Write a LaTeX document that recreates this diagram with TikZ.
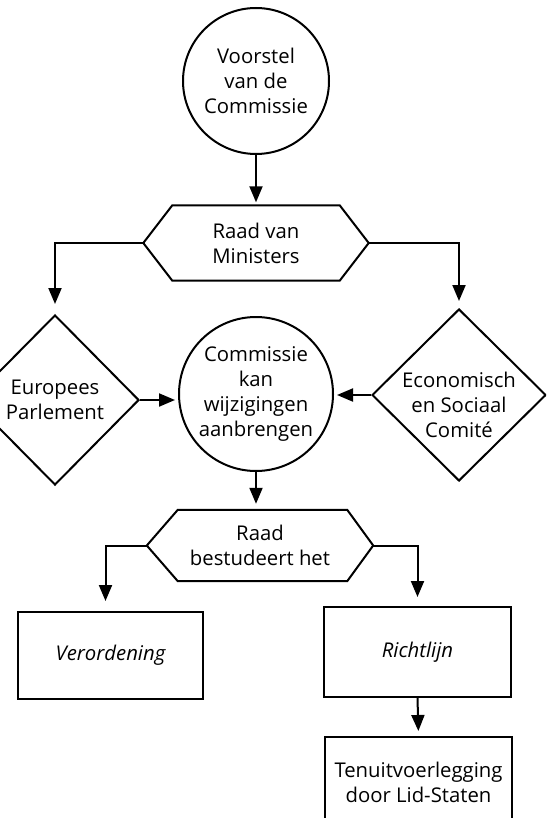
\documentclass[tikz,border=0pt]{standalone}
\usepackage{fontspec}
\setmainfont{Open Sans}
\usetikzlibrary{shapes.geometric,arrows.meta}
\begin{document}
\begin{tikzpicture}[x=1pt,y=-1pt,
  every node/.style={font=\fontsize{20.3}{25}\selectfont, align=center},
  ln/.style={draw, line width=2pt},
  circ/.style={ln, circle, inner sep=0pt},
  dia/.style={ln, diamond, inner sep=0pt},
  boxn/.style={ln, rectangle, inner sep=0pt},
  hexn/.style={rectangle, inner sep=0pt},
  hexline/.style={line width=2pt, line join=miter},
  conn/.style={line width=2pt, -{Triangle[width=13pt,length=16pt]}}
]
\useasboundingbox (0,0) rectangle (546,818);
\clip (0,0) rectangle (546,818);

% nodes
\node[circ, minimum size=146pt] (c1) at (256,81) {Voorstel\\van de\\Commissie};
\node[hexn, minimum width=225pt, minimum height=75pt] (h1) at (256,243) {Raad van\\Ministers};
\node[dia, minimum width=168pt, minimum height=170pt] (d1) at (55,400) {};
\node (d1t) at (55,400) {Europees\\Parlement};
\node[dia, minimum width=174pt, minimum height=172pt] (d2) at (459,395) {};
\node (d2t) at (459,405) {Economisch\\en Sociaal\\Comité};
\node[circ, minimum size=154pt] (c2) at (256,394) {Commissie\\kan\\wijzigingen\\aanbrengen};
\node[hexn, minimum width=226pt, minimum height=71pt] (h2) at (260,545.5) {Raad\\bestudeert het};
\node[boxn, minimum width=185pt, minimum height=87pt] (V) at (110.5,655.5) {\itshape Verordening};
\node[boxn, minimum width=187pt, minimum height=90pt] (R) at (417.5,652) {\itshape Richtlijn};
\node[boxn, minimum width=187pt, minimum height=90pt] (T) at (418.5,782) {Tenuitvoerlegging\\door Lid-Staten};

% hexagon outlines
\draw[hexline] (h1.west) -- ([xshift=29pt]h1.north west) -- ([xshift=-29pt]h1.north east)
  -- (h1.east) -- ([xshift=-29pt]h1.south east) -- ([xshift=29pt]h1.south west) -- cycle;
\draw[hexline] (h2.west) -- ([xshift=31pt]h2.north west) -- ([xshift=-26pt]h2.north east)
  -- (h2.east) -- ([xshift=-26pt]h2.south east) -- ([xshift=31pt]h2.south west) -- cycle;

% connectors
\draw[conn, shorten >=3pt] (c1.south) -- (h1.north);
\draw[conn, shorten >=10pt] (h1.west) -| (d1.north);
\draw[conn, shorten >=7pt] (h1.east) -| (d2.north);
\draw[conn, shorten >=3pt] (d1.east) -- (d1.east -| c2.west);
\draw[conn, shorten >=3pt] (d2.west) -- (d2.west -| c2.east);
\draw[conn, shorten >=6pt] (c2.south) -- (c2.south |- h2.north);
\draw[conn, shorten >=10pt] (h2.west) -| ([xshift=-5pt]V.north);
\draw[conn, shorten >=9pt] (h2.east) -| (R.north);
\draw[conn, shorten >=5pt] (R.south) -- (T.north);
\end{tikzpicture}
\end{document}
